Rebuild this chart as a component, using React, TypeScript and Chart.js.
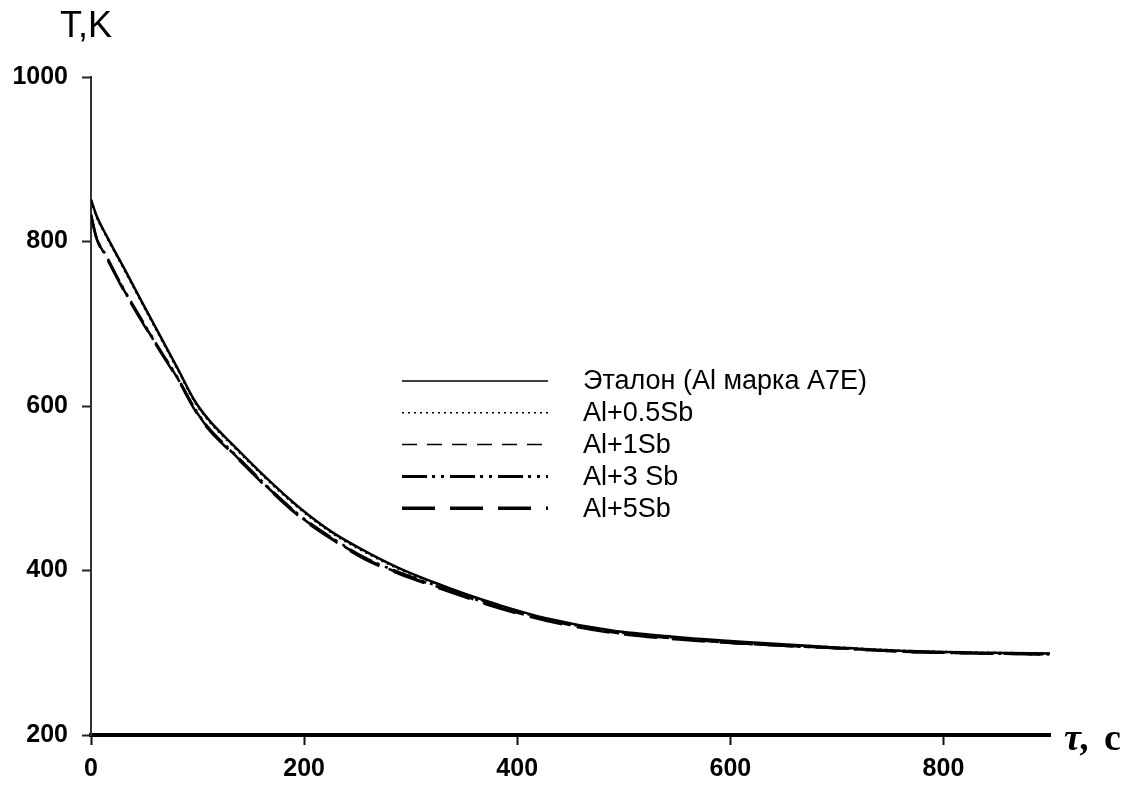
import React, { useEffect, useRef } from "react";
import { Chart, registerables } from "chart.js";

Chart.register(...registerables);

// time, s
const times = [0, 5, 15, 30, 48, 65, 82, 97, 110, 133, 165, 196, 227, 258, 289, 321, 350, 383, 427, 489, 552, 614, 692, 770, 842, 900];

// temperature, K
const etalon = [851, 832, 806, 770, 726, 685, 644, 607, 584, 553, 512, 476, 446, 423, 403, 386, 372, 358, 342, 327, 319, 313, 307, 302, 300, 299];
const al05Sb = [850, 831, 805, 769, 725, 684, 643, 606, 583, 552, 511, 475, 445, 422, 402, 385, 371, 357, 341, 326, 318, 312, 307, 302, 300, 299];
const al1Sb = [832, 805, 780, 743, 703, 667, 632, 597, 573, 543, 502, 466, 438, 414, 397, 382, 369, 355, 340, 325, 317, 311, 306, 301, 299, 298];
const al3Sb = [833, 806, 781, 744, 704, 668, 633, 598, 574, 544, 503, 467, 439, 415, 398, 383, 370, 355, 340, 325, 317, 311, 306, 301, 299, 298];
const al5Sb = [831, 804, 779, 742, 702, 666, 631, 596, 572, 542, 501, 465, 437, 413, 396, 381, 368, 354, 339, 324, 316, 311, 306, 301, 299, 298];

const seriesLabels = ["Эталон (Al марка А7Е)", "Al+0.5Sb", "Al+1Sb", "Al+3 Sb", "Al+5Sb"];
const seriesValues = [etalon, al05Sb, al1Sb, al3Sb, al5Sb];

const xTickValues = [0, 200, 400, 600, 800];
const yTickValues = [200, 400, 600, 800, 1000];

const yTitle = "T,K";
const xTitleSymbol = "τ,";
const xTitleUnit = "с";

const dashStyles = [
  { dash: [] as number[], legendWidth: 1.5 },
  { dash: [2, 4], legendWidth: 1.5 },
  { dash: [15, 10], legendWidth: 1.5 },
  { dash: [25, 5, 3, 6, 3, 6], legendWidth: 3 },
  { dash: [33, 15], legendWidth: 3.5 },
];

const FONT_SANS = "'Liberation Sans', Arial, sans-serif";
const FONT_SERIF = "'Liberation Serif', 'Times New Roman', serif";

const decorPlugin = {
  id: "decor",
  afterDraw(chart: any) {
    const ctx: CanvasRenderingContext2D = chart.ctx;
    ctx.save();
    // y-axis title
    ctx.fillStyle = "#000";
    ctx.font = `36px ${FONT_SANS}`;
    ctx.textAlign = "left";
    ctx.textBaseline = "alphabetic";
    ctx.fillText(yTitle, 60, 37);
    // x-axis title
    ctx.font = `italic bold 38px ${FONT_SERIF}`;
    ctx.fillText(xTitleSymbol, 1064, 750);
    ctx.font = `bold 38px ${FONT_SERIF}`;
    ctx.fillText(xTitleUnit, 1104, 750);

    // legend
    const x0 = 402;
    const x1 = 548;
    const y0 = 381;
    const dy = 31.8;
    ctx.font = `27px ${FONT_SANS}`;
    ctx.textBaseline = "middle";
    chart.data.datasets.forEach((ds: any, i: number) => {
      const y = y0 + i * dy;
      ctx.strokeStyle = "#000";
      ctx.lineWidth = dashStyles[i].legendWidth;
      ctx.setLineDash(dashStyles[i].dash);
      ctx.beginPath();
      ctx.moveTo(x0, y);
      ctx.lineTo(x1, y);
      ctx.stroke();
      ctx.setLineDash([]);
      ctx.fillStyle = "#000";
      ctx.fillText(ds.label, 583, y + 1);
    });
    ctx.restore();
  },
};

export default function App() {
  const canvasRef = useRef<HTMLCanvasElement | null>(null);

  useEffect(() => {
    document.body.style.margin = "0";
    const canvas = canvasRef.current;
    if (!canvas) return;

    const datasets = seriesLabels.map((label, i) => ({
      label,
      data: times.map((t, j) => ({ x: t, y: seriesValues[i][j] })),
      borderColor: "#000",
      borderWidth: 2.5,
      borderDash: dashStyles[i].dash,
      pointRadius: 0,
      fill: false,
      cubicInterpolationMode: "monotone" as const,
    }));

    const chart = new Chart(canvas, {
      type: "line",
      data: { datasets },
      plugins: [decorPlugin],
      options: {
        animation: false,
        responsive: false,
        devicePixelRatio: 1,
        layout: { padding: { top: 77, right: 90, left: 0, bottom: 0 } },
        plugins: {
          legend: { display: false },
          tooltip: { enabled: false },
        },
        scales: {
          x: {
            type: "linear",
            min: 0,
            max: 900,
            afterBuildTicks: (scale: any) => {
              scale.ticks = xTickValues.map((v) => ({ value: v }));
            },
            afterFit: (scale: any) => {
              scale.height = 52;
            },
            border: { display: true, color: "#000", width: 4 },
            grid: {
              drawOnChartArea: false,
              drawTicks: true,
              tickLength: 10,
              tickWidth: 2,
              tickColor: "#111",
            },
            ticks: {
              color: "#000",
              font: { family: FONT_SANS, size: 25, weight: "bold" },
              padding: 9,
              maxRotation: 0,
              autoSkip: false,
              callback: (v: any) => String(v),
            },
          },
          y: {
            type: "linear",
            min: 200,
            max: 1000,
            afterBuildTicks: (scale: any) => {
              scale.ticks = yTickValues.map((v) => ({ value: v }));
            },
            afterFit: (scale: any) => {
              scale.width = 91;
            },
            border: { display: true, color: "#333", width: 2 },
            grid: {
              drawOnChartArea: false,
              drawTicks: true,
              tickLength: 9,
              tickWidth: 2,
              tickColor: "#222",
            },
            ticks: {
              color: "#000",
              font: { family: FONT_SANS, size: 25, weight: "bold" },
              padding: 14,
              autoSkip: false,
              callback: (v: any) => String(v),
            },
          },
        },
      },
    });

    return () => chart.destroy();
  }, []);

  return (
    <canvas
      ref={canvasRef}
      width={1140}
      height={787}
      style={{ display: "block", width: 1140, height: 787 }}
    />
  );
}
